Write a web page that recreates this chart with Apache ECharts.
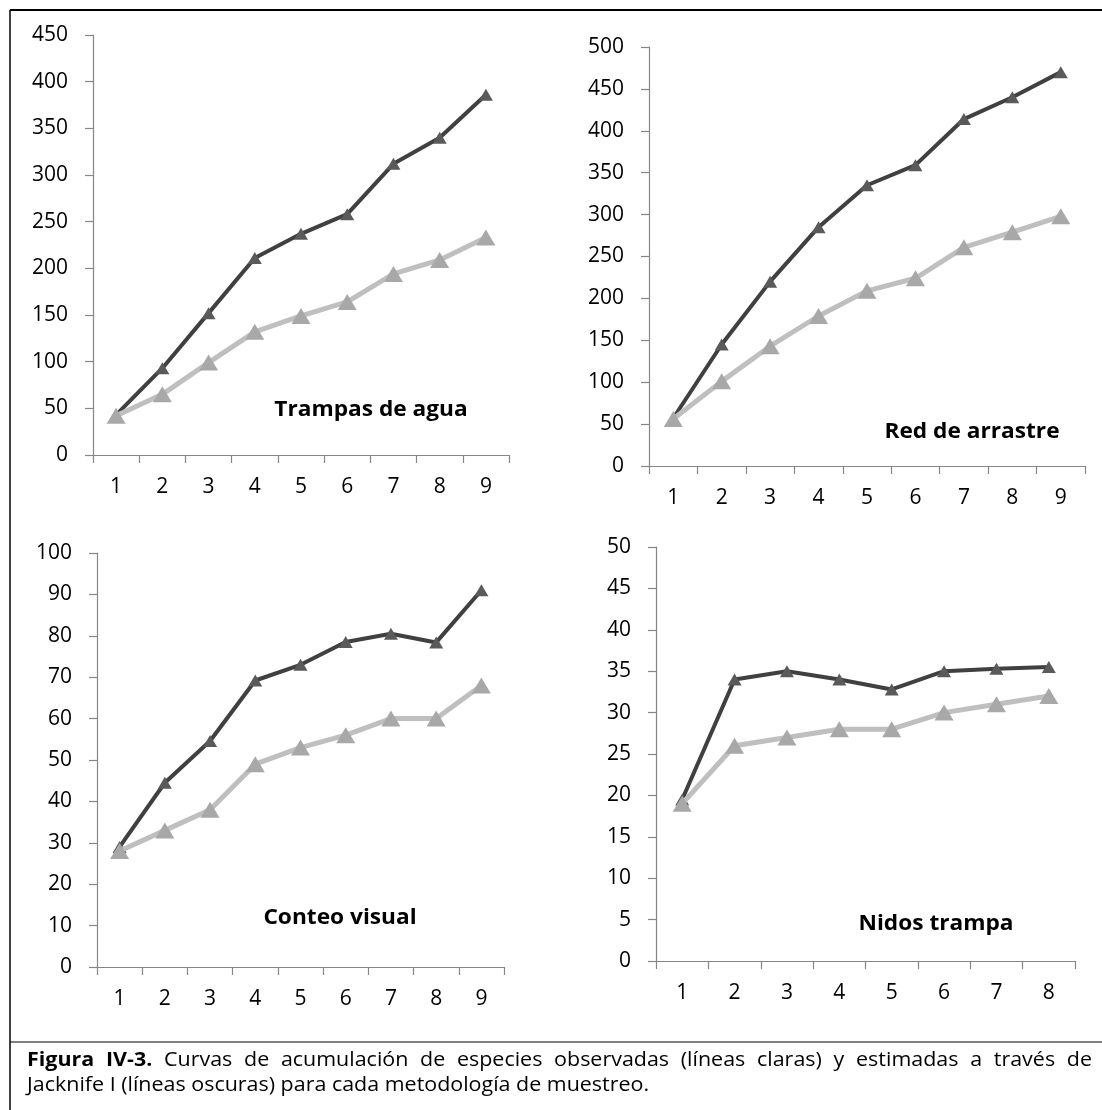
<!DOCTYPE html>
<html>
<head>
<meta charset="utf-8">
<script src="https://cdn.jsdelivr.net/npm/echarts@6/dist/echarts.min.js"></script>
<style>
html,body{margin:0;padding:0;background:#fff;}
#chart{width:1102px;height:1110px;}
</style>
</head>
<body>
<div id="chart"></div>
<script>
// ---- data ----
const cats9 = ['1','2','3','4','5','6','7','8','9'];
const cats8 = ['1','2','3','4','5','6','7','8'];

const trampasObs  = [42, 65, 99, 132, 149, 164, 194, 209, 233];
const trampasJack = [43, 93, 152, 211, 237, 258, 312, 340, 386];

const redObs  = [56, 101, 143, 179, 209, 224, 261, 279, 298];
const redJack = [57, 145, 220, 285, 335, 359, 414, 440, 470];

const conteoObs  = [28, 33, 38, 49, 53, 56, 60, 60, 68];
const conteoJack = [29, 44.5, 54.6, 69.2, 73, 78.5, 80.5, 78.4, 91];

const nidosObs  = [19, 26, 27, 28, 28, 30, 31, 32];
const nidosJack = [19.5, 34, 35, 34, 32.8, 35, 35.3, 35.5];

const panelTitles = ['Trampas de agua', 'Red de arrastre', 'Conteo visual', 'Nidos trampa'];
const yMax = [450, 500, 100, 50];
const yStep = [50, 50, 10, 5];

const captionLine1 = 'Figura IV-3. Curvas de acumulación de especies observadas (líneas claras) y estimadas a través de';
const captionLine2 = 'Jacknife I (líneas oscuras) para cada metodología de muestreo.';

// ---- layout ----
const FONT = '"Open Sans", "Noto Sans", sans-serif';
const grids = [
  {left: 93,  top: 35,  width: 416, height: 420},
  {left: 649, top: 47,  width: 436, height: 419},
  {left: 97,  top: 553, width: 407, height: 414},
  {left: 656, top: 547, width: 419, height: 414}
];
const titlePos = [[371, 410], [972, 432], [340, 918], [936, 924]];
const catsList = [cats9, cats9, cats9, cats8];
const obsList = [trampasObs, redObs, conteoObs, nidosObs];
const jackList = [trampasJack, redJack, conteoJack, nidosJack];

const axisColor = '#868686';
const xAxes = [], yAxes = [], series = [];
for (let i = 0; i < 4; i++) {
  xAxes.push({
    type: 'category', gridIndex: i, data: catsList[i], boundaryGap: true,
    axisLine: {show: true, lineStyle: {color: axisColor, width: 1.2}},
    axisTick: {show: true, length: 8, inside: false, alignWithLabel: false, lineStyle: {color: axisColor, width: 1.2}},
    axisLabel: {color: '#000', fontFamily: FONT, fontSize: 21, margin: 22},
    splitLine: {show: false}
  });
  yAxes.push({
    type: 'value', gridIndex: i, min: 0, max: yMax[i], interval: yStep[i],
    axisLine: {show: true, lineStyle: {color: axisColor, width: 1.2}},
    axisTick: {show: true, length: 8, lineStyle: {color: axisColor, width: 1.2}},
    axisLabel: {color: '#000', fontFamily: FONT, fontSize: 21, margin: 25},
    splitLine: {show: false}
  });
  series.push({
    type: 'line', xAxisIndex: i, yAxisIndex: i, data: jackList[i],
    symbol: 'triangle', symbolSize: [14, 12], z: 2,
    lineStyle: {color: '#404040', width: 4},
    itemStyle: {color: '#5a5a5a'},
    animation: false
  });
  series.push({
    type: 'line', xAxisIndex: i, yAxisIndex: i, data: obsList[i],
    symbol: 'triangle', symbolSize: [19, 16], z: 3,
    lineStyle: {color: '#bfbfbf', width: 5},
    itemStyle: {color: '#a8a8a8'},
    animation: false
  });
}

// ---- graphics: titles, borders, caption ----
const graphics = [];
for (let i = 0; i < 4; i++) {
  graphics.push({
    type: 'text', x: titlePos[i][0], y: titlePos[i][1], scaleX: 1.08, scaleY: 1,
    style: {text: panelTitles[i], fontFamily: FONT, fontWeight: 'bold', fontSize: 21, fill: '#000', align: 'center', verticalAlign: 'middle'}
  });
}
graphics.push({type: 'line', shape: {x1: 10, y1: 10, x2: 1102, y2: 10}, style: {stroke: '#000', lineWidth: 2}});
graphics.push({type: 'line', shape: {x1: 10, y1: 10, x2: 10, y2: 1110}, style: {stroke: '#000', lineWidth: 1.5}});
graphics.push({type: 'line', shape: {x1: 10, y1: 1042, x2: 1102, y2: 1042}, style: {stroke: '#000', lineWidth: 1.2}});

const CAP_SIZE = 19.5;
const CAP_SX = 1.1;
const ctx = document.createElement('canvas').getContext('2d');
function measure(t, bold) {
  ctx.font = (bold ? 'bold ' : '') + CAP_SIZE + 'px ' + FONT;
  return ctx.measureText(t).width * CAP_SX;
}
const words = captionLine1.split(' ').map((w, k) => ({t: w, b: k < 2}));
const widths = words.map(w => measure(w.t, w.b));
const totalW = widths.reduce((a, b) => a + b, 0);
const xStart = 27, xEnd = 1092;
const gap = (xEnd - xStart - totalW) / (words.length - 1);
let cx = xStart;
words.forEach((w, k) => {
  graphics.push({
    type: 'text', x: cx, y: 1060, scaleX: CAP_SX, scaleY: 1,
    style: {text: w.t, fontFamily: FONT, fontSize: CAP_SIZE, fontWeight: w.b ? 'bold' : 'normal', fill: '#000', align: 'left', verticalAlign: 'middle'}
  });
  cx += widths[k] + gap;
});
graphics.push({
  type: 'text', x: xStart, y: 1085, scaleX: CAP_SX, scaleY: 1,
  style: {text: captionLine2, fontFamily: FONT, fontSize: CAP_SIZE, fill: '#000', align: 'left', verticalAlign: 'middle'}
});

const chart = echarts.init(document.getElementById('chart'), null, {renderer: 'canvas'});
chart.setOption({
  animation: false,
  backgroundColor: '#fff',
  grid: grids,
  xAxis: xAxes,
  yAxis: yAxes,
  series: series,
  graphic: graphics
});
</script>
</body>
</html>
